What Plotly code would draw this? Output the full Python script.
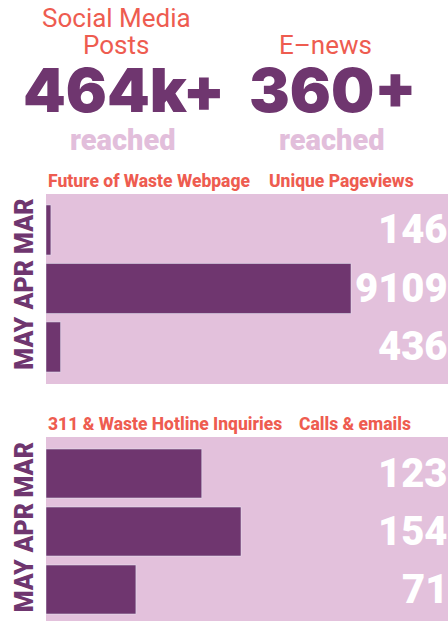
import plotly.graph_objects as go

# ---- data ----
months = ["MAR", "APR", "MAY"]
pageviews = [146, 9109, 436]
inquiries = [123, 154, 71]

kpi_title_lines = [["Social Media", "Posts"], ["E–news"]]
kpi_values = ["464k+", "360+"]
kpi_sub = ["reached", "reached"]

chart1_titles = ["Future of Waste Webpage", "Unique Pageviews"]
chart2_titles = ["311 & Waste Hotline Inquiries", "Calls & emails"]

# ---- styles ----
PURPLE = "#6F366F"
PANEL = "#E3C1DC"
CORAL = "#EE5C50"
LIGHT = "#E2BEDB"
W, H = 448, 621
FONT = "Roboto"
BIG = "Inter"

def py(px):
    return 1 - px / H

def px_x(px):
    return px / W

fig = go.Figure()

fig.add_trace(go.Bar(x=pageviews, y=months, orientation="h", marker_color=PURPLE,
                     xaxis="x", yaxis="y", width=0.855, hoverinfo="skip"))
fig.add_trace(go.Bar(x=inquiries, y=months, orientation="h", marker_color=PURPLE,
                     xaxis="x2", yaxis="y2", width=0.845, hoverinfo="skip"))

x0 = px_x(46)
tickfont = dict(family=FONT, size=25, color=PURPLE, weight=900)
fig.update_layout(
    width=W, height=H, margin=dict(l=0, r=0, t=0, b=0),
    paper_bgcolor="white", plot_bgcolor=PANEL, showlegend=False,
    xaxis=dict(domain=[x0, 1], range=[0, 9109 * 402 / 305], visible=False, fixedrange=True),
    yaxis=dict(domain=[py(384), py(194)], anchor="x", range=[2.633, -0.615],
               tickangle=-90, tickfont=tickfont, showgrid=False, zeroline=False,
               ticks="", ticklabelstandoff=7, fixedrange=True),
    xaxis2=dict(domain=[x0, 1], range=[0, 154 * 402 / 195], visible=False, anchor="y2", fixedrange=True),
    yaxis2=dict(domain=[0, py(437)], anchor="x2", range=[2.543, -0.63],
                tickangle=-90, tickfont=tickfont, showgrid=False, zeroline=False,
                ticks="", ticklabelstandoff=7, fixedrange=True),
)

ann = []
# KPI header
title_pos = [[(116, 18), (116, 45)], [(325, 45)]]
val_pos = [124, 333]
sub_pos = [123, 332]
for i in range(2):
    for line, (xp, yp) in zip(kpi_title_lines[i], title_pos[i]):
        ann.append(dict(text=line, x=px_x(xp), y=py(yp), xref="paper", yref="paper",
                        xanchor="center", yanchor="middle", showarrow=False,
                        font=dict(family=FONT, size=26, color=CORAL)))
    ann.append(dict(text=kpi_values[i], x=px_x(val_pos[i]), y=py(90), xref="paper", yref="paper",
                    xanchor="center", yanchor="middle", showarrow=False,
                    font=dict(family=BIG, size=61, color=PURPLE, weight=900)))
    ann.append(dict(text=kpi_sub[i], x=px_x(sub_pos[i]), y=py(140), xref="paper", yref="paper",
                    xanchor="center", yanchor="middle", showarrow=False,
                    font=dict(family=FONT, size=29, color=LIGHT, weight=900)))

# chart titles
for (titles, ypx, xs) in [(chart1_titles, 181, [46, 267]), (chart2_titles, 424, [46, 297])]:
    for t, xp in zip(titles, xs):
        ann.append(dict(text=t, x=px_x(xp), y=py(ypx), xref="paper", yref="paper",
                        xanchor="left", yanchor="middle", showarrow=False,
                        font=dict(family=FONT, size=17.5, color=CORAL, weight=800)))

# value labels at right
for vals, xr, yr in [(pageviews, "x domain", "y"), (inquiries, "x2 domain", "y2")]:
    for m, v in zip(months, vals):
        ann.append(dict(text=str(v), x=1.0, y=m, xref=xr, yref=yr, xshift=2,
                        xanchor="right", yanchor="middle", showarrow=False,
                        font=dict(family=FONT, size=40, color="white", weight=900)))

fig.update_layout(annotations=ann)
fig.write_html("out.html", config={"displayModeBar": False},
               post_script="document.body.style.margin='0';document.body.style.overflow='hidden';")
